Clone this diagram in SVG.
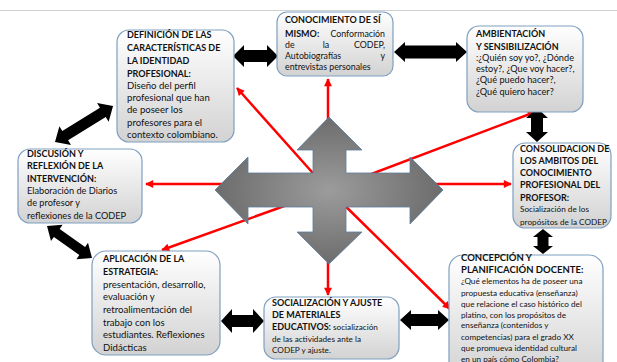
<svg xmlns="http://www.w3.org/2000/svg" width="617" height="362" viewBox="0 0 617 362">
<defs>
<linearGradient id="bg" x1="0" y1="0" x2="0" y2="1">
<stop offset="0" stop-color="#ffffff"/>
<stop offset="1" stop-color="#d2d2d2"/>
</linearGradient>
<radialGradient id="cg" cx="0.5" cy="0.5" r="0.5">
<stop offset="0" stop-color="#9c9c9c"/>
<stop offset="1" stop-color="#6c6c6c"/>
</radialGradient>
<marker id="ra" viewBox="0 0 10 10" refX="9" refY="5" markerWidth="9" markerHeight="8" markerUnits="userSpaceOnUse" orient="auto">
<path d="M0,0 L10,5 L0,10 Z" fill="#ff0000"/>
</marker>
<style>
.box{fill:url(#bg);stroke:#7f9fc0;stroke-width:1.2}
.rl{stroke:#ff0000;stroke-width:2.5;fill:none;marker-end:url(#ra)}
.blk{fill:#000}
text{font-family:Lato,"Liberation Sans",sans-serif;fill:#111}
.h{font-weight:bold;font-size:9px}
.h10{font-weight:bold;font-size:9.5px}
.b10{font-size:9.6px}
.b93{font-size:9.2px}
.b9{font-size:9.2px}
.b88{font-size:8.8px}
.b8{font-size:8.2px}
</style>
</defs>
<rect width="617" height="362" fill="#ffffff"/>
<line x1="0" y1="10.5" x2="617" y2="10.5" stroke="#d0d0d0" stroke-width="1"/>

<g id="connectors">
<line class="rl" x1="328" y1="190" x2="328" y2="79"/>
<line class="rl" x1="328" y1="190" x2="237" y2="88"/>
<line class="rl" x1="329" y1="184" x2="146" y2="184"/>
<line class="rl" x1="329" y1="190" x2="535" y2="112"/>
<line class="rl" x1="329" y1="184" x2="511" y2="184"/>
<line class="rl" x1="329" y1="190" x2="450" y2="309"/>
<line class="rl" x1="328" y1="190" x2="328" y2="295"/>
<line class="rl" x1="329" y1="190" x2="162" y2="250"/>
<path class="blk" d="M233,56 L244,45 L244,50 L267,50 L267,45 L278,56 L267,67 L267,62 L244,62 L244,67 Z"/>
<path class="blk" d="M394,52 L405,42 L405,45.5 L456,45.5 L456,42 L467,52 L456,62 L456,58.5 L405,58.5 L405,62 Z"/>
<path class="blk" d="M537,108 L548,118 L543,118 L543,132 L548,132 L537,142 L526,132 L531,132 L531,118 L526,118 Z"/>
<path class="blk" d="M543,229 L553,237 L548.5,237 L548.5,246 L553,246 L543,254 L533,246 L537.5,246 L537.5,237 L533,237 Z"/>
<path class="blk" d="M221,321 L232,309 L232,315 L253,315 L253,309 L264,321 L253,333 L253,327 L232,327 L232,333 Z"/>
<path class="blk" d="M400,320 L411,310 L411,314 L438,314 L438,310 L449,320 L438,330 L438,326 L411,326 L411,330 Z"/>
<path class="blk" transform="translate(55,142) rotate(-31.8)" d="M0,0 L12,-11 L12,-5.5 L56.3,-5.5 L56.3,-11 L68.3,0 L56.3,11 L56.3,5.5 L12,5.5 L12,11 Z"/>
<path class="blk" transform="translate(47,226) rotate(35.4)" d="M0,0 L12,-10 L12,-5 L43.2,-5 L43.2,-10 L55.2,0 L43.2,10 L43.2,5 L12,5 L12,10 Z"/>
</g>

<g id="center-cross">
<polygon points="329,117 362,150 346,150 346,173 410,173 410,157 443,190 410,224 410,207 346,207 346,232 362,232 329,264 297,232 313,232 313,207 248,207 248,224 215,190 248,157 248,173 313,173 313,150 297,150" fill="url(#cg)" stroke="#5b7c9e" stroke-width="0.8"/>
</g>

<g id="definicion">
<rect class="box" x="117" y="30" width="117" height="112" rx="12"/>
<text class="h" x="127" y="38">DEFINICIÓN DE LAS</text>
<text class="h" x="127" y="51">CARACTERÍSTICAS DE</text>
<text class="h" x="127" y="64">LA IDENTIDAD</text>
<text class="h" x="127" y="77">PROFESIONAL:</text>
<text class="b10" x="127" y="89">Diseño del perfil</text>
<text class="b10" x="127" y="101">profesional que han</text>
<text class="b10" x="127" y="113">de poseer los</text>
<text class="b10" x="127" y="126">profesores para el</text>
<text class="b10" x="127" y="138">contexto colombiano.</text>
</g>

<g id="conocimiento">
<rect class="box" x="277" y="12" width="116" height="64" rx="10"/>
<text class="h" x="285" y="23">CONOCIMIENTO DE SÍ</text>
<text class="h" x="285" y="37">MISMO:</text>
<text class="b88" x="385" y="37" text-anchor="end">Conformación</text>
<text class="b88" x="285" y="48">de</text>
<text class="b88" x="326" y="48" text-anchor="middle">la</text>
<text class="b88" x="385" y="48" text-anchor="end">CODEP,</text>
<text class="b88" x="285" y="59">Autobiografías</text>
<text class="b88" x="385" y="59" text-anchor="end">y</text>
<text class="b88" x="285" y="70">entrevistas personales</text>
</g>

<g id="ambientacion">
<rect class="box" x="467" y="26" width="116" height="86" rx="12"/>
<text class="h" x="476" y="37">AMBIENTACIÓN</text>
<text class="h" x="476" y="50">Y SENSIBILIZACIÓN</text>
<text class="b9" x="476" y="61">:¿Quién soy yo?, ¿Dónde</text>
<text class="b9" x="476" y="72">estoy?,  ¿Que voy hacer?,</text>
<text class="b9" x="476" y="83">¿Qué puedo hacer?,</text>
<text class="b9" x="476" y="95">¿Qué quiero hacer?</text>
</g>

<g id="discusion">
<rect class="box" x="18" y="149" width="124" height="74" rx="12"/>
<text class="h" x="27" y="157">DISCUSIÓN Y</text>
<text class="h" x="27" y="169">REFLEXIÓN DE LA</text>
<text class="h" x="27" y="182">INTERVENCIÓN:</text>
<text class="b93" x="27" y="194">Elaboración de Diarios</text>
<text class="b93" x="27" y="206">de profesor y</text>
<text class="b93" x="27" y="219">reflexiones de la CODEP</text>
</g>

<g id="consolidacion">
<rect class="box" x="513" y="143" width="98" height="85" rx="12"/>
<text class="h" x="520" y="152">CONSOLIDACION DE</text>
<text class="h" x="520" y="164">LOS AMBITOS DEL</text>
<text class="h" x="520" y="176">CONOCIMIENTO</text>
<text class="h" x="520" y="188">PROFESIONAL DEL</text>
<text class="h" x="520" y="201">PROFESOR:</text>
<text class="b8" x="520" y="212">Socialización de los</text>
<text class="b8" x="520" y="225">propósitos de la CODEP</text>
</g>

<g id="aplicacion">
<rect class="box" x="92" y="251" width="128" height="104" rx="14"/>
<text class="h" x="103" y="262">APLICACIÓN DE LA</text>
<text class="h" x="103" y="275">ESTRATEGIA:</text>
<text class="b10" x="103" y="288">presentación, desarrollo,</text>
<text class="b10" x="103" y="300">evaluación y</text>
<text class="b10" x="103" y="313">retroalimentación del</text>
<text class="b10" x="103" y="326">trabajo con los</text>
<text class="b10" x="103" y="338">estudiantes. Reflexiones</text>
<text class="b10" x="103" y="351">Didácticas</text>
</g>

<g id="socializacion">
<rect class="box" x="264" y="297" width="135" height="62" rx="12"/>
<text class="h" x="272" y="306">SOCIALIZACIÓN Y AJUSTE</text>
<text class="h" x="272" y="318">DE MATERIALES</text>
<text x="272" y="330"><tspan class="h">EDUCATIVOS:</tspan><tspan class="b8"> socialización</tspan></text>
<text class="b8" x="272" y="342">de las actividades ante la</text>
<text class="b8" x="272" y="353">CODEP y ajuste.</text>
</g>

<g id="concepcion">
<rect class="box" x="449" y="255" width="154" height="125" rx="14"/>
<text class="h10" x="461" y="261">CONCEPCIÓN Y</text>
<text class="h10" x="461" y="273">PLANIFICACIÓN DOCENTE:</text>
<text class="b8" x="461" y="284">¿Qué elementos ha de poseer una</text>
<text class="b8" x="461" y="296">propuesta educativa (enseñanza)</text>
<text class="b8" x="461" y="307">que relacione el caso histórico del</text>
<text class="b8" x="461" y="318">platino,  con los propósitos de</text>
<text class="b8" x="461" y="328">enseñanza (contenidos y</text>
<text class="b8" x="461" y="340">competencias) para el grado XX</text>
<text class="b8" x="461" y="351">que promueva identidad  cultural</text>
<text class="b8" x="461" y="362">en un país cómo Colombia?</text>
</g>
</svg>
